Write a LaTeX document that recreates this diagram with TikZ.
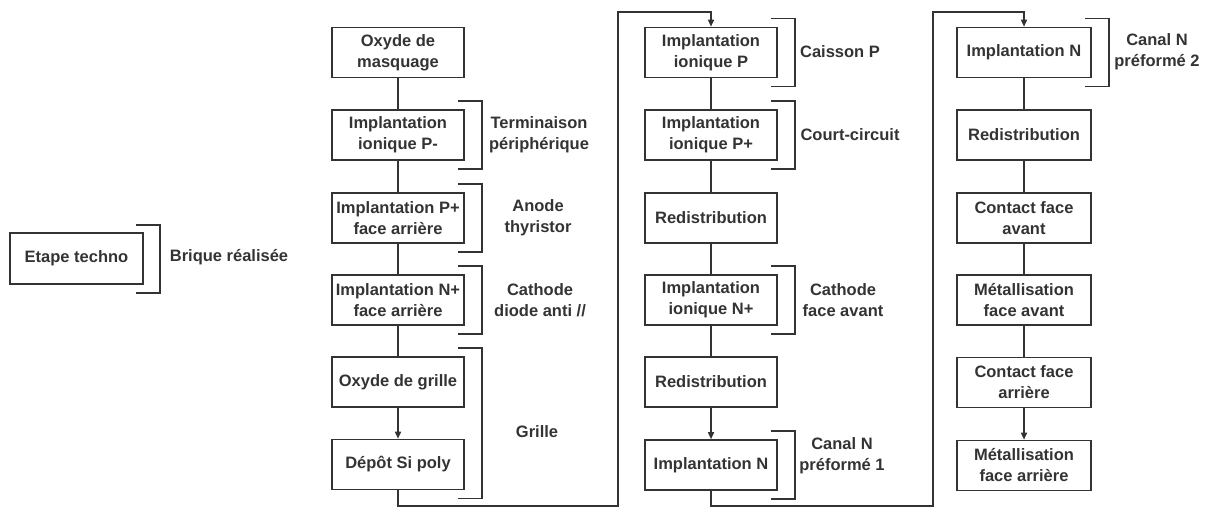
\documentclass[tikz,border=0pt]{standalone}
\usepackage{fontspec}
\setmainfont{Liberation Sans}
\usetikzlibrary{arrows.meta}
\definecolor{ink}{RGB}{51,51,51}
\begin{document}
\begin{tikzpicture}[x=1pt,y=-1pt,
  every node/.style={font=\bfseries\fontsize{16.5}{21}\selectfont, text=ink},
  box/.style={draw=ink, line width=1.6pt, minimum width=132pt, minimum height=50pt, align=center, inner sep=0pt},
  lab/.style={align=center, inner sep=0pt},
  ln/.style={draw=ink, line width=1.5pt},
  arr/.style={ln, -{Triangle[length=7pt,width=6pt]}}]
\useasboundingbox (0,0) rectangle (1206,507);

% legend
\node[box, minimum width=133pt, minimum height=51pt] (leg) at (76.5,258.5) {Etape techno};
\node[lab] (legl) at (229,257) {Brique réalisée};

% column 1
\node[box] (a1) at (398,52.5) {Oxyde de\\masquage};
\node[box] (a2) at (398,135) {Implantation\\ionique P-};
\node[box] (a3) at (398,218) {Implantation P+\\face arrière};
\node[box] (a4) at (398,300) {Implantation N+\\face arrière};
\node[box] (a5) at (398,382) {Oxyde de grille};
\node[box] (a6) at (398,464.5) {Dépôt Si poly};

% column 2
\node[box] (b1) at (711,52.5) {Implantation\\ionique P};
\node[box] (b2) at (711,135) {Implantation\\ionique P+};
\node[box] (b3) at (711,218) {Redistribution};
\node[box] (b4) at (711,300) {Implantation\\ionique N+};
\node[box] (b5) at (711,382) {Redistribution};
\node[box] (b6) at (711,465) {Implantation N};

% column 3
\node[box, minimum width=134pt] (c1) at (1024,52.5) {Implantation N};
\node[box, minimum width=134pt] (c2) at (1024,135) {Redistribution};
\node[box, minimum width=134pt] (c3) at (1024,218) {Contact face\\avant};
\node[box, minimum width=134pt] (c4) at (1024,300) {Métallisation\\face avant};
\node[box, minimum width=134pt] (c5) at (1024,382.5) {Contact face\\arrière};
\node[box, minimum width=134pt] (c6) at (1024,465.5) {Métallisation\\face arrière};

% labels
\node[lab] (l1) at (539,135) {Terminaison\\périphérique};
\node[lab] (l2) at (538,218) {Anode\\thyristor};
\node[lab] (l3) at (540,300) {Cathode\\diode anti //};
\node[lab] (l4) at (537,432) {Grille};
\node[lab] (l5) at (840,52) {Caisson P};
\node[lab] (l6) at (850,135) {Court-circuit};
\node[lab] (l7) at (843,300) {Cathode\\face avant};
\node[lab] (l8) at (842,456) {Canal N\\préformé 1};
\node[lab] (l9) at (1157,52) {Canal N\\préformé 2};

% brackets
\draw[ln] ([shift={(-8,-7)}]leg.north east) -| ([shift={(16,8)}]leg.south east) -- ++(-24,0);
\foreach \t/\b in {a2/a2,a3/a3,a4/a4,a5/a6,b1/b1,b2/b2,b4/b4,b6/b6,c1/c1}{
  \draw[ln] ([shift={(-7,-8)}]\t.north east) -| ([shift={(17,8)}]\b.south east) -- ++(-24,0);
}

% vertical links
\draw[ln] (a1) -- (a2);
\draw[ln] (a2) -- (a3);
\draw[ln] (a3) -- (a4);
\draw[ln] (a4) -- (a5);
\draw[arr] (a5) -- (a6);
\draw[ln] (b1) -- (b2);
\draw[ln] (b2) -- (b3);
\draw[ln] (b3) -- (b4);
\draw[ln] (b4) -- (b5);
\draw[arr] (b5) -- (b6);
\draw[ln] (c1) -- (c2);
\draw[ln] (c2) -- (c3);
\draw[ln] (c3) -- (c4);
\draw[ln] (c4) -- (c5);
\draw[arr] (c5) -- (c6);

% column transfers
\coordinate (r1) at (618,506);
\coordinate (u1) at (618,12);
\coordinate (r2) at (933,506);
\coordinate (u2) at (933,12);
\draw[arr] (a6.south) |- (r1) -- (u1) -| (b1.north);
\draw[arr] (b6.south) |- (r2) -- (u2) -| (c1.north);
\end{tikzpicture}
\end{document}
